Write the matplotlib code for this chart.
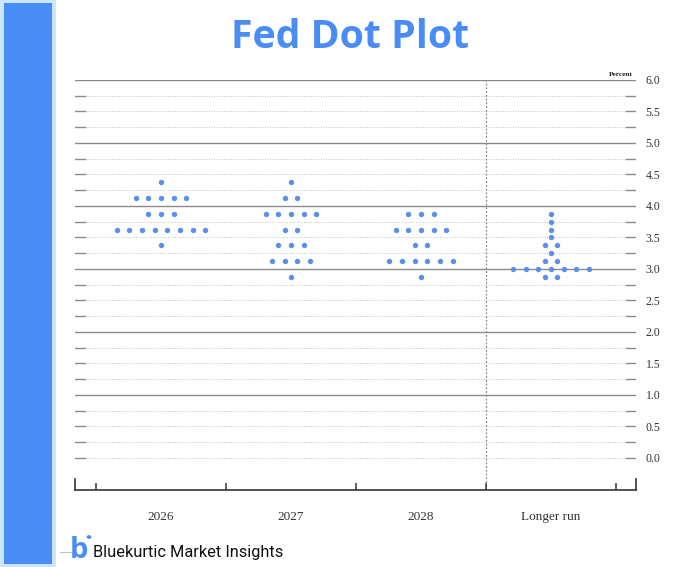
import numpy as np
import matplotlib
matplotlib.use("Agg")
import matplotlib.pyplot as plt
from matplotlib.patches import Rectangle, Circle

# projections: (rate level, number of participants) for each horizon
groups = ["2026", "2027", "2028", "Longer run"]
levels_2026 = [4.375, 4.125, 3.875, 3.625, 3.375]
counts_2026 = [1, 5, 3, 8, 1]
levels_2027 = [4.375, 4.125, 3.875, 3.625, 3.375, 3.125, 2.875]
counts_2027 = [1, 2, 5, 2, 3, 4, 1]
levels_2028 = [3.875, 3.625, 3.375, 3.125, 2.875]
counts_2028 = [3, 5, 2, 6, 1]
levels_lr = [3.875, 3.75, 3.625, 3.5, 3.375, 3.25, 3.125, 3.0, 2.875]
counts_lr = [1, 1, 1, 1, 2, 1, 2, 7, 2]

all_levels = [levels_2026, levels_2027, levels_2028, levels_lr]
all_counts = [counts_2026, counts_2027, counts_2028, counts_lr]

blue = "#4a8cf5"
dot_blue = "#5a8fec"
grid_gray = "#8a8a8a"
serif = "Liberation Serif"

W, H = 680, 567
fig = plt.figure(figsize=(W / 100, H / 100), dpi=100)
fig.patch.set_facecolor("white")

# left side band
fig.add_artist(Rectangle((0, 0), 56 / W, 1, transform=fig.transFigure,
                         color="#cde4ff", lw=0, zorder=0))
fig.add_artist(Rectangle((4 / W, 3 / H), 48 / W, 561 / H, transform=fig.transFigure,
                         color=blue, lw=0, zorder=1))

fig.text(350 / W, 1 - 48 / H, "Fed Dot Plot", ha="center", va="baseline",
         fontsize=28.3, fontweight="bold", color=blue, family="Open Sans")

ax = fig.add_axes([75 / W, 1 - 490 / H, 561 / W, 410 / H])
x_left, x_right = -0.1615, 4.154
ax.set_xlim(x_left, x_right)
ax.set_ylim(-0.508, 6.0)

# horizontal grid: solid at whole percents, dotted at quarters
seg = 10 / 561
for y in np.arange(0, 6.01, 0.25):
    if y > 0 and abs(y - round(y)) < 1e-9:
        ax.axhline(y, color=grid_gray, lw=1.0, zorder=1)
    else:
        ax.axhline(y, color="#c0c0c0", lw=0.7, ls=(0, (1, 1.5)), zorder=1)
        ax.axhline(y, xmin=0, xmax=seg, color=grid_gray, lw=1.0, zorder=1)
        ax.axhline(y, xmin=1 - seg, xmax=1, color=grid_gray, lw=1.0, zorder=1)

# separator before longer run
ax.axvline(3, color="#888888", lw=0.9, ls=(0, (1.5, 1.5)), zorder=1)

# the dots
spacing = 0.097
for g, (lv, ct) in enumerate(zip(all_levels, all_counts)):
    center = g + 0.5
    for level, n in zip(lv, ct):
        xs = center + (np.arange(n) - (n - 1) / 2) * spacing
        ax.scatter(xs, [level] * n, s=15, color=dot_blue, lw=0, zorder=3)

for side in ["top", "right", "left"]:
    ax.spines[side].set_visible(False)
ax.spines["bottom"].set_color("#333333")
ax.spines["bottom"].set_linewidth(1.2)

# group boundary ticks and group labels
ax.set_xticks([0, 1, 2, 3, 4])
ax.set_xticklabels([])
ax.tick_params(axis="x", which="major", direction="in", length=5, width=1.1, color="#333333")
ax.set_xticks([0.5, 1.5, 2.5, 3.5], minor=True)
ax.set_xticklabels(groups, minor=True, fontsize=9.5, family=serif, color="#333333")
ax.tick_params(axis="x", which="minor", length=0, pad=15)
edge = 11 / 410
ax.axvline(x_left, ymin=0, ymax=edge, color="#333333", lw=1.2, clip_on=False)
ax.axvline(x_right, ymin=0, ymax=edge, color="#333333", lw=1.2, clip_on=False)

ax.yaxis.tick_right()
ax.set_yticks(np.arange(0, 6.01, 0.5))
ax.set_yticklabels([f"{v:.1f}" for v in np.arange(0, 6.01, 0.5)],
                   fontsize=8.5, family=serif, color="#333333")
ax.tick_params(axis="y", length=0, pad=7)

ax.text(1 - 3 / 561, 1 + 3 / 410, "Percent", transform=ax.transAxes,
        ha="right", va="bottom", fontsize=5.3, fontweight="bold",
        family=serif, color="#222222")

# footer logo
fig.add_artist(plt.Line2D([60 / W, 72 / W], [1 - 552 / H, 1 - 552 / H],
                          transform=fig.transFigure, color="#9ab8e8", lw=0.6))
fig.text(79 / W, 1 - 551 / H, "b", ha="center", va="center", fontsize=21,
         fontweight="bold", color=blue, family="Open Sans")
fig.add_artist(Circle((89 / W, 1 - 537 / H), 2.3 / W, transform=fig.transFigure,
                      color=blue, lw=0))
fig.text(93 / W, 1 - 552 / H, "Bluekurtic Market Insights", ha="left", va="center",
         fontsize=11.8, color="#111111", family="Roboto")

fig.savefig("out.png", dpi=100, facecolor="white")
